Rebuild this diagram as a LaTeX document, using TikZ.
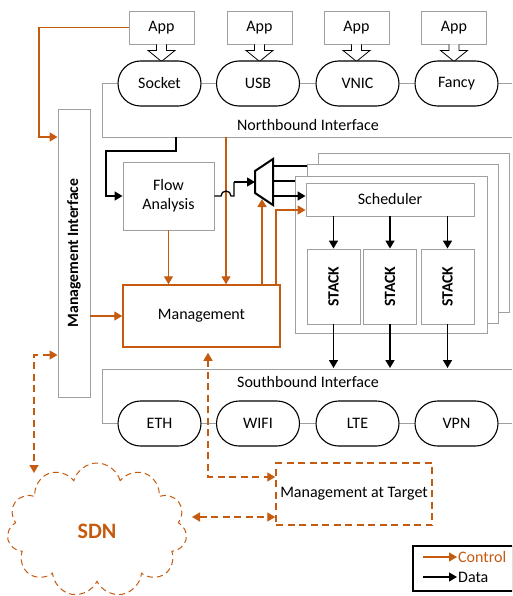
\documentclass[tikz,border=0pt]{standalone}
\usepackage{fontspec}
\setmainfont{Carlito}
\usetikzlibrary{arrows.meta,shapes.symbols,shapes.misc}
\definecolor{ctl}{RGB}{197,90,17}
\definecolor{gbox}{RGB}{160,160,160}
\begin{document}
\begin{tikzpicture}[x=1pt,y=1pt,
  font=\fontsize{16}{19}\selectfont,
  graybox/.style={draw=gbox,line width=0.9pt,fill=white,inner sep=0pt},
  pill/.style={draw=black,line width=1.1pt,rounded rectangle,minimum width=83pt,minimum height=45pt,inner sep=0pt,fill=white},
  gline/.style={draw=gbox,line width=0.9pt},
  ctlarrow/.style={draw=ctl,line width=1.4pt,-{Triangle[length=8pt,width=9pt]}},
  ctldash/.style={draw=ctl,line width=1.4pt,dash pattern=on 7pt off 4.5pt,{Triangle[length=8pt,width=9pt]}-{Triangle[length=8pt,width=9pt]}},
  dataarrow/.style={draw=black,line width=1.6pt,-{Triangle[length=8pt,width=9pt]}},
  dataline/.style={draw=black,line width=1.6pt},
  hollow/.style={draw=black,line width=0.8pt,fill=white},
  frame/.style={draw=gbox,line width=0.9pt,fill=white},
  boldlabel/.style={rotate=90,font=\fontsize{15.7}{18}\selectfont\bfseries},
]
\useasboundingbox (0,0) rectangle (512,-596);
\clip (0,0) rectangle (512,-596);

% Apps
\foreach \i/\x in {1/161.5,2/259.5,3/356.5,4/454} {
  \node[graybox,minimum width=65pt,minimum height=33pt] (app\i) at (\x,-27.5) {App};
  \draw[hollow] (app\i.south) ++(-5,0) -- ++(0,-6) -- ++(-8.5,0) -- ++(13.5,-11) -- ++(13.5,11) -- ++(-8.5,0) -- ++(0,6);
}

% Northbound interface
\coordinate (nbL) at (102,-83.5);
\coordinate (nbB) at (102,-137);
\coordinate (nbR) at (512,-137);
\coordinate (nbE) at (512,-83.5);
\node[pill] (p1) at (159.5,-83.5) {Socket};
\node[pill] (p2) at (258,-83.5) {USB};
\node[pill] (p3) at (357.5,-83.5) {VNIC};
\node[pill] (p4) at (456.5,-83.5) {Fancy};
\draw[gline] (p1.west) -- (nbL) -- (nbB) -- (nbR);
\draw[gline] (p1.east) -- (p2.west) (p2.east) -- (p3.west) (p3.east) -- (p4.west) (p4.east) -- (nbE);
\node (nbt) at (308,-125) {Northbound Interface};

% Management interface
\node[graybox,minimum width=32pt,minimum height=288pt] (mi) at (74,-253) {};
\node[boldlabel] (mit) at (mi.center) {Management Interface};
\draw[ctlarrow] (app1.west) -- (39,-27.5) -- (39,-137) -- (mi.west |- 0,-137);

% Flow analysis
\node[graybox,minimum width=91pt,minimum height=68pt,align=center] (fa) at (168.5,-196) {Flow\\Analysis};
\draw[dataarrow] (176,-137) -- (176,-151) -- (106,-151) -- (106,-196) -- (fa.west);

% Management
\node[draw=ctl,line width=1.5pt,fill=white,minimum width=157pt,minimum height=62pt,inner sep=0pt] (mg) at (201.5,-316) {Management};

% stacked frames
\draw[frame] (318,-153) rectangle (509,-312);
\draw[frame] (307,-164) rectangle (498,-323);
\draw[frame] (295,-176) rectangle (487,-333);
\node[graybox,minimum width=168pt,minimum height=33pt] (sch) at (390,-199.5) {Scheduler};
\foreach \i/\x in {1/333.5,2/390,3/447.5} {
  \node[graybox,minimum width=53pt,minimum height=75pt] (s\i) at (\x,-286.5) {};
  \node[boldlabel] at (s\i.center) {STACK};
  \draw[dataarrow] (s\i.north |- sch.south) -- (s\i.north);
  \draw[dataarrow] (s\i.south) -- (s\i.south |- 0,-368);
}

% orange control arrows
\draw[ctlarrow] (fa.south) -- (fa.south |- mg.north);
\draw[ctlarrow] (226,-137) -- (226,-137 |- mg.north);
\draw[ctlarrow] (mi.east |- 0,-316) -- (mg.west);
\draw[ctlarrow] (262,-316 |- mg.north) -- (262,-199);
\draw[ctlarrow] (276,-316 |- mg.north) -- (276,-210) -- (sch.west |- 0,-210);

% mux
\coordinate (mxa) at (255,-171);
\coordinate (mxb) at (273,-159);
\coordinate (mxc) at (273,-205);
\coordinate (mxd) at (255,-193);
\draw[line width=2pt,fill=white] (mxa) -- (mxb) -- (mxc) -- (mxd) -- cycle;
\draw[dataline,line width=1.3pt] (fa.east) -- (221,-196) arc (180:0:5) -- (234,-196) -- (234,-182);
\draw[dataarrow,line width=1.3pt] (234,-182) -- (255,-182);
\draw[dataline] (273,-166) -- (307,-166);
\draw[dataline] (273,-181) -- (295,-181);
\draw[dataarrow] (273,-196) -- (sch.west |- 0,-196);

% Southbound
\coordinate (sbL) at (102,-369);
\coordinate (sbR) at (512,-369);
\coordinate (sbD) at (102,-423.5);
\coordinate (sbE) at (512,-423.5);
\draw[gline] (sbR) -- (sbL) -- (sbD);
\node[pill] (e1) at (159.5,-423.5) {ETH};
\node[pill] (e2) at (258,-423.5) {WIFI};
\node[pill] (e3) at (357.5,-423.5) {LTE};
\node[pill] (e4) at (456.5,-423.5) {VPN};
\draw[gline] (sbD) -- (e1.west) (e1.east) -- (e2.west) (e2.east) -- (e3.west) (e3.east) -- (e4.west) (e4.east) -- (sbE);
\node (sbt) at (308,-382) {Southbound Interface};

% Management at Target
\node[draw=ctl,line width=1.5pt,dash pattern=on 7pt off 4.5pt,minimum width=156pt,minimum height=62pt,inner sep=0pt] (tg) at (354,-494) {Management at Target};

% SDN cloud
\node[cloud,cloud puffs=11,draw=ctl,line width=1pt,dash pattern=on 6pt off 4pt,minimum width=180pt,minimum height=134pt,aspect=1.35,inner sep=0pt] (sdn) at (97,-530) {};
\node[text=ctl,font=\fontsize{22}{24}\selectfont\bfseries] (sdnt) at (97,-531) {SDN};

% dashed control arrows
\draw[ctldash,shorten <=5pt] (mg.south -| 208,0) -- (208,-477) -- (tg.west |- 0,-477);
\draw[ctldash] (mi.west |- 0,-355) -- (34,-355) -- (34,-473);
\draw[ctldash] (192,-517) -- (tg.west |- 0,-517);

% Legend
\node[draw=black,line width=1.5pt,minimum width=100pt,minimum height=45pt,inner sep=0pt] (lg) at (463,-568.5) {};
\coordinate (lc1) at (423,-557);
\coordinate (lc2) at (457,-557);
\coordinate (ld1) at (423,-577);
\coordinate (ld2) at (457,-577);
\draw[ctlarrow,line width=1.2pt] (lc1) -- (lc2);
\draw[dataarrow,line width=1.2pt] (ld1) -- (ld2);
\node[anchor=west,inner sep=1pt,text=ctl] (lct) at (lc2) {Control};
\node[anchor=west,inner sep=1pt] (ldt) at (ld2) {Data};
\end{tikzpicture}
\end{document}
